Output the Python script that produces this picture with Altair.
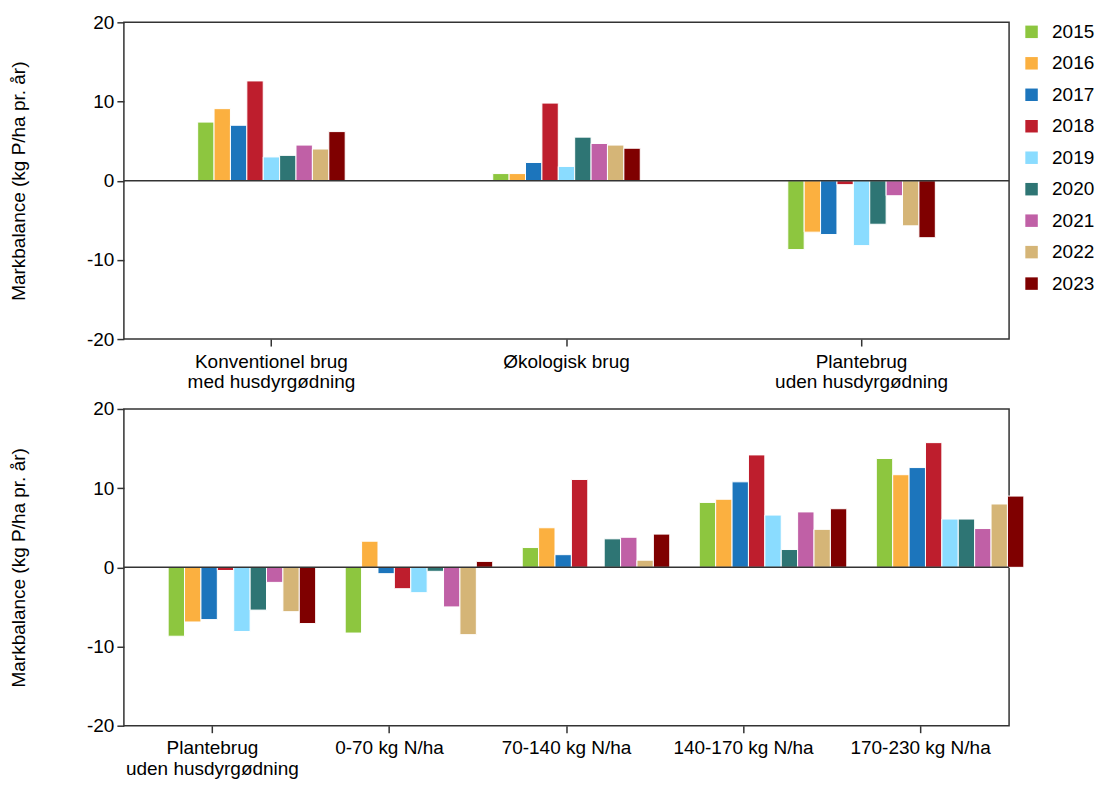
import altair as alt
import pandas as pd

years = ["2015", "2016", "2017", "2018", "2019", "2020", "2021", "2022", "2023"]
colors = ["#8DC63F", "#FBB040", "#1C75BC", "#BE1E2D", "#8ADCFF",
          "#2E7574", "#C060A6", "#D5B577", "#7F0000"]

# Top panel
top_categories = ["Konventionel brug\nmed husdyrgødning", "Økologisk brug",
                  "Plantebrug\nuden husdyrgødning"]
top_konventionel = [7.4, 9.1, 7.0, 12.6, 3.0, 3.2, 4.5, 4.0, 6.2]
top_okologisk = [0.9, 0.9, 2.3, 9.8, 1.8, 5.5, 4.7, 4.5, 4.1]
top_plantebrug = [-8.7, -6.5, -6.8, -0.5, -8.2, -5.5, -1.9, -5.7, -7.2]

# Bottom panel
bottom_categories = ["Plantebrug\nuden husdyrgødning", "0-70 kg N/ha", "70-140 kg N/ha",
                     "140-170 kg N/ha", "170-230 kg N/ha"]
bot_plantebrug = [-8.7, -6.9, -6.6, -0.4, -8.1, -5.4, -1.9, -5.6, -7.1]
bot_0_70 = [-8.3, 3.3, -0.8, -2.7, -3.2, -0.5, -5.0, -8.5, 0.75]
bot_70_140 = [2.5, 5.0, 1.6, 11.1, 0.0, 3.6, 3.8, 0.9, 4.2]
bot_140_170 = [8.2, 8.6, 10.8, 14.2, 6.6, 2.25, 7.0, 4.8, 7.4]
bot_170_230 = [13.75, 11.7, 12.6, 15.75, 6.1, 6.1, 4.9, 8.0, 9.0]

y_ticks = [-20, -10, 0, 10, 20]
y_title = "Markbalance (kg P/ha pr. år)"


def long_frame(categories, series):
    rows = []
    for cat, vals in zip(categories, series):
        for yr, v in zip(years, vals):
            rows.append({"kategori": cat, "år": yr, "værdi": v})
    return pd.DataFrame(rows)


top_df = long_frame(top_categories, [top_konventionel, top_okologisk, top_plantebrug])
bot_df = long_frame(bottom_categories, [bot_plantebrug, bot_0_70, bot_70_140,
                                         bot_140_170, bot_170_230])

FONT = "Liberation Sans"
DARK = "#333333"
FS = 19


def panel(df, cats):
    bars = alt.Chart(df).mark_bar(stroke="white", strokeWidth=1).encode(
        x=alt.X("kategori:N", sort=cats,
                scale=alt.Scale(paddingInner=0.5, paddingOuter=0.25),
                axis=alt.Axis(title=None, labelAngle=0,
                              labelExpr="split(datum.label, '\\n')",
                              tickSize=7, labelPadding=6, domain=False,
                              labelFontSize=FS, labelColor="#000000",
                              tickColor=DARK, tickWidth=1.5, labelLineHeight=21)),
        xOffset=alt.XOffset("år:N", sort=years),
        y=alt.Y("værdi:Q", scale=alt.Scale(domain=[-20, 20], nice=False, zero=False),
                axis=alt.Axis(values=y_ticks, title=y_title, grid=False, domain=False,
                              labelExpr="'' + datum.value",
                              tickSize=7, labelPadding=3, labelFontSize=FS,
                              titleFontSize=FS, titleFontWeight="normal",
                              labelColor="#000000", titleColor="#000000",
                              tickColor=DARK, tickWidth=1.5, titlePadding=58)),
        color=alt.Color("år:N", scale=alt.Scale(domain=years, range=colors),
                        legend=alt.Legend(title=None, symbolType="square",
                                          symbolSize=156, symbolStrokeWidth=0,
                                          labelFontSize=FS, rowPadding=11.5,
                                          labelOffset=11,
                                          offset=-4, labelColor="#000000")),
    )
    zero = alt.Chart(pd.DataFrame({"nul": [0]})).mark_rule(
        color=DARK, strokeWidth=1.5).encode(y="nul:Q")
    return alt.layer(bars, zero).properties(width=886, height=317)


chart = alt.vconcat(panel(top_df, top_categories),
                    panel(bot_df, bottom_categories),
                    spacing=6).properties(
    padding={"left": 0, "top": 4, "right": 0, "bottom": 0}
).configure(font=FONT).configure_view(stroke=DARK, strokeWidth=1.5)

chart.save("out.html", embed_options={"renderer": "svg", "actions": False})
